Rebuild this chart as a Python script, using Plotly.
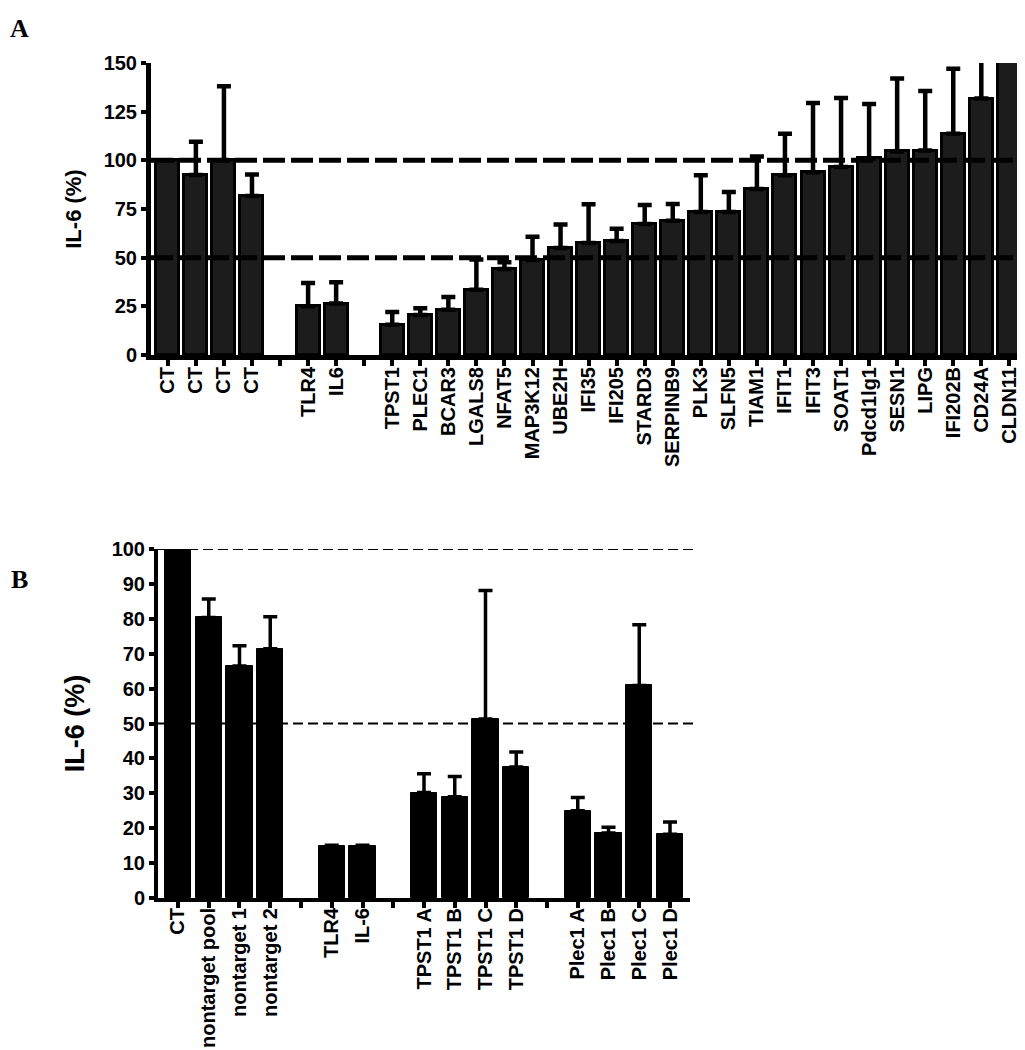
import plotly.graph_objects as go

# ---------------- Panel A data ----------------
a_labels = ["CT", "CT", "CT", "CT", "", "TLR4", "IL6", "", "TPST1", "PLEC1", "BCAR3",
            "LGALS8", "NFAT5", "MAP3K12", "UBE2H", "IFI35", "IFI205", "STARD3",
            "SERPINB9", "PLK3", "SLFN5", "TIAM1", "IFIT1", "IFIT3", "SOAT1",
            "Pdcd1lg1", "SESN1", "LIPG", "IFI202B", "CD24A", "CLDN11"]
a_values = [100, 92.5, 100, 81.7, None, 25, 26.4, None, 15.6, 20.5, 23.2,
            33.5, 44.2, 48.8, 55, 57.5, 58.5, 67.3,
            69, 73.4, 73.4, 85.3, 92.4, 93.9, 96.6,
            101, 104.6, 105, 113.7, 131.7, 160]
a_err = [0, 17, 38, 11, 0, 12, 11, 0, 6.5, 3.5, 6.6,
         15.5, 3.5, 12, 12, 20, 6.3, 9.7,
         8.6, 19, 10.3, 16.7, 21.3, 35.5, 35.4,
         28, 37.4, 30.6, 33.3, 35, 0]
a_yticks = [0, 25, 50, 75, 100, 125, 150]
a_refs = [50, 100]

# ---------------- Panel B data ----------------
b_labels = ["CT", "nontarget pool", "nontarget 1", "nontarget 2", "", "TLR4", "IL-6", "",
            "TPST1 A", "TPST1 B", "TPST1 C", "TPST1 D", "",
            "Plec1 A", "Plec1 B", "Plec1 C", "Plec1 D"]
b_values = [100, 80.4, 66.5, 71.4, None, 14.8, 14.8, None,
            30.2, 29, 51.3, 37.5, None,
            25, 18.6, 60.9, 18.3]
b_err = [0, 5.3, 5.8, 9.2, 0, 0.3, 0.3, 0,
         5.4, 5.8, 36.8, 4.3, 0,
         3.8, 1.7, 17.4, 3.5]
b_yticks = list(range(0, 101, 10))
b_refs = [50, 100]

W, H = 1025, 1050
FONT = "Liberation Sans, Arial, sans-serif"

def px(x):
    return x / W

def py(y):
    return 1 - y / H

a_x = list(range(len(a_labels)))
b_x = list(range(len(b_labels)))

fig = go.Figure()
fig.add_trace(go.Bar(
    x=a_x, y=a_values, width=0.82,
    marker=dict(color="#1c1c1c", line=dict(color="#000000", width=3)),
    error_y=dict(type="data", array=a_err, arrayminus=[0] * len(a_err), symmetric=False,
                 color="#000000", thickness=4.5, width=7),
    xaxis="x", yaxis="y", hoverinfo="skip"))
fig.add_trace(go.Bar(
    x=b_x, y=b_values, width=0.85,
    marker=dict(color="#000000", line=dict(color="#000000", width=1)),
    error_y=dict(type="data", array=b_err, arrayminus=[0] * len(b_err), symmetric=False,
                 color="#000000", thickness=3.5, width=7),
    xaxis="x2", yaxis="y2", hoverinfo="skip"))

tick_font_a = dict(family=FONT, size=20, color="#000", weight="bold")
tick_font_b = dict(family=FONT, size=20, color="#000", weight="bold")

fig.update_layout(
    width=W, height=H, margin=dict(l=0, r=0, t=0, b=0),
    paper_bgcolor="white", plot_bgcolor="white", showlegend=False, bargap=0,
    xaxis=dict(domain=[px(143), px(1021)], anchor="y", range=[-0.6, 30.7],
               tickmode="array", tickvals=a_x, ticktext=a_labels, tickangle=-90,
               tickfont=dict(family=FONT, size=20, color="#000", weight="bold"),
               ticklabelstandoff=-7,
               showline=True, linecolor="#000", linewidth=5,
               ticks="outside", ticklen=6, tickwidth=4, tickcolor="#000",
               showgrid=False, zeroline=False, automargin=False),
    yaxis=dict(domain=[py(347), py(55)], anchor="x", range=[0, 150],
               tickmode="array", tickvals=a_yticks, tickfont=tick_font_a,
               showline=True, linecolor="#000", linewidth=5,
               ticks="outside", ticklen=5, tickwidth=4, tickcolor="#000",
               showgrid=False, zeroline=False, automargin=False,
               title=dict(text="IL-6 (%)", standoff=17,
                          font=dict(family=FONT, size=22, color="#000", weight="bold"))),
    xaxis2=dict(domain=[px(150), px(682)], anchor="y2", range=[-0.65, 16.65],
                tickmode="array", tickvals=b_x, ticktext=b_labels, tickangle=-90,
                tickfont=dict(family=FONT, size=20, color="#000", weight="bold"),
                ticklabelstandoff=-8,
                showline=True, linecolor="#000", linewidth=4,
                ticks="outside", ticklen=6, tickwidth=4, tickcolor="#000",
                showgrid=False, zeroline=False, automargin=False),
    yaxis2=dict(domain=[py(890), py(541)], anchor="x2", range=[0, 100],
                tickmode="array", tickvals=b_yticks, tickfont=tick_font_b,
                showline=True, linecolor="#000", linewidth=4,
                ticks="outside", ticklen=5, tickwidth=4, tickcolor="#000",
                showgrid=False, zeroline=False, automargin=False,
                title=dict(text="IL-6 (%)", standoff=20,
                           font=dict(family=FONT, size=27, color="#000", weight="bold"))),
)

for v in a_refs:
    fig.add_shape(type="line", xref="paper", yref="y", x0=px(143), x1=px(1023), y0=v, y1=v,
                  line=dict(color="#000", width=5, dash="22px,6px"), layer="above")
for v in b_refs:
    fig.add_shape(type="line", xref="paper", yref="y2", x0=px(150), x1=px(688), y0=v, y1=v,
                  line=dict(color="#000", width=2, dash="10px,5px"), layer="above")

fig.add_annotation(text="A", x=px(0), y=py(20), xref="paper", yref="paper",
                   xanchor="left", yanchor="middle", showarrow=False,
                   font=dict(family="Liberation Serif, Times New Roman, serif", size=26,
                             color="#000", weight="bold"))
fig.add_annotation(text="B", x=px(1), y=py(571), xref="paper", yref="paper",
                   xanchor="left", yanchor="middle", showarrow=False,
                   font=dict(family="Liberation Serif, Times New Roman, serif", size=26,
                             color="#000", weight="bold"))

fig.write_html("out.html")
